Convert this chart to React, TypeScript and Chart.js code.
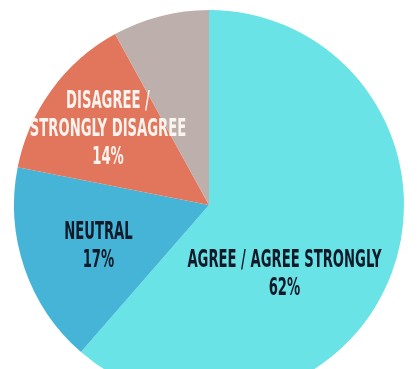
import React, { useEffect, useRef } from "react";
import { Chart, registerables } from "chart.js";

Chart.register(...registerables);

const categories = ["AGREE / AGREE STRONGLY", "NEUTRAL", "DISAGREE / STRONGLY DISAGREE", "OTHER"];
const values = [61.4, 16.7, 13.9, 8.0];
const labelLines = [
  ["AGREE / AGREE STRONGLY", "62%"],
  ["NEUTRAL", "17%"],
  ["DISAGREE /", "STRONGLY DISAGREE", "14%"],
  [],
];
const colors = ["#6ae3e6", "#45b4d6", "#e2765c", "#bdafab"];
const textColors = ["#101a28", "#101a28", "#fbf3ee", "#101a28"];
// label anchor offsets as fractions of the outer radius
const anchors = [
  { dx: 0.387, dy: 0.36 },
  { dx: -0.567, dy: 0.215 },
  { dx: -0.518, dy: -0.385 },
  { dx: 0, dy: 0 },
];

const labelPlugin = {
  id: "sliceLabels",
  afterDatasetsDraw(chart: any) {
    const ctx = chart.ctx;
    const meta = chart.getDatasetMeta(0);
    meta.data.forEach((arc: any, i: number) => {
      const lines = labelLines[i];
      if (!lines || !lines.length) return;
      const r = arc.outerRadius;
      const cx = arc.x + anchors[i].dx * r;
      const cy = arc.y + anchors[i].dy * r;
      const lh = 28;
      ctx.save();
      ctx.font = "bold 24px 'Liberation Sans Narrow', 'DejaVu Sans Condensed', sans-serif";
      ctx.fillStyle = textColors[i];
      ctx.textAlign = "center";
      ctx.textBaseline = "middle";
      lines.forEach((line: string, k: number) => {
        const y = cy + (k - (lines.length - 1) / 2) * lh;
        ctx.save();
        ctx.translate(cx, y);
        ctx.scale(0.61, 1);
        ctx.fillText(line, 0, 0);
        ctx.restore();
      });
      ctx.restore();
    });
  },
};

export default function App() {
  const ref = useRef<HTMLCanvasElement | null>(null);
  useEffect(() => {
    document.body.style.overflow = "hidden";
    const chart = new Chart(ref.current as HTMLCanvasElement, {
      type: "pie",
      data: {
        labels: categories,
        datasets: [
          {
            data: values,
            backgroundColor: colors,
            borderWidth: 0,
            hoverOffset: 0,
          },
        ],
      },
      options: {
        responsive: false,
        animation: false,
        layout: { padding: { top: 10, bottom: 10, left: 14, right: 15 } },
        plugins: {
          legend: { display: false },
          tooltip: { enabled: false },
        },
      },
      plugins: [labelPlugin],
    });
    return () => chart.destroy();
  }, []);
  return (
    <div style={{ position: "fixed", left: 0, top: 0, width: 419, height: 410, background: "#fff" }}>
      <canvas ref={ref} width={419} height={410} style={{ width: 419, height: 410 }} />
    </div>
  );
}
